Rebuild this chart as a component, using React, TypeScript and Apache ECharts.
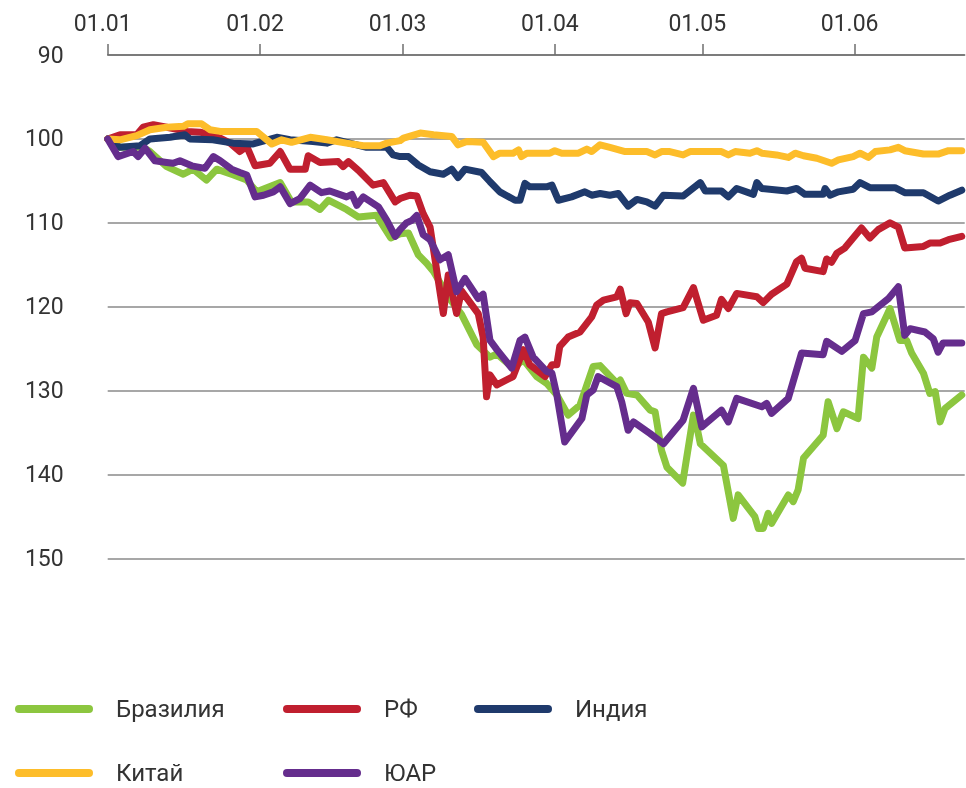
import React, { useEffect, useRef } from 'react';
import * as echarts from 'echarts';

// X axis: day offset from 1 January; ticks at the first day of each month
const monthTickDays = [0, 31, 60, 91, 121, 152];
const monthTickLabels = ['01.01', '01.02', '01.03', '01.04', '01.05', '01.06'];
const lastDay = 174.4;

// Y axis (inverted)
const yMin = 90;
const yMax = 150;
const yStep = 10;

const seriesNames = ['Бразилия', 'РФ', 'Индия', 'Китай', 'ЮАР'];
const seriesColors = ['#8cc63f', '#c01f2f', '#1f3a6c', '#fdbd2a', '#652d8d'];

const brazilDays = [0, 2.5, 7.2, 8.6, 12.0, 15.4, 17.4, 20.1, 22.2, 25.6, 28.3, 30.3, 35.1, 37.4, 40.8, 43.2, 44.9, 48.6, 51.0, 54.7, 57.6, 59.5, 61.2, 63.2, 64.9, 66.3, 69.3, 72.0, 75.1, 77.8, 79.2, 82.5, 84.6, 87.3, 89.3, 91.4, 93.7, 96.1, 98.8, 100.2, 103.6, 104.3, 105.6, 107.7, 110.4, 111.4, 112.7, 113.8, 117.0, 119.2, 119.9, 120.6, 125.3, 127.3, 128.3, 131.7, 132.4, 133.4, 134.4, 135.1, 138.5, 139.5, 140.5, 141.6, 145.6, 146.6, 148.4, 149.7, 152.7, 153.8, 155.5, 156.5, 159.2, 161.2, 162.6, 163.6, 166.0, 167.3, 168.4, 169.4, 170.4, 173.8];
const brazilValues = [100, 101.0, 101.0, 101.5, 103.3, 104.2, 103.6, 104.9, 103.6, 104.3, 104.9, 106.3, 105.2, 107.5, 107.5, 108.4, 107.3, 108.4, 109.3, 109.1, 111.8, 111.3, 111.2, 113.8, 114.8, 115.8, 118.8, 120.9, 124.5, 126.0, 125.6, 127.3, 126.3, 128.3, 129.1, 130.5, 132.9, 131.7, 127.1, 127.0, 129.1, 128.7, 130.3, 130.5, 132.3, 132.5, 137.1, 139.1, 141.0, 132.9, 134.3, 136.3, 138.9, 145.2, 142.4, 145.0, 146.4, 146.4, 144.6, 145.8, 142.4, 143.2, 141.8, 138.0, 135.3, 131.3, 134.5, 132.5, 133.3, 126.0, 127.3, 123.6, 120.2, 124.0, 124.0, 125.5, 127.9, 130.3, 130.1, 133.7, 132.1, 130.5];

const russiaDays = [0, 2.5, 5.9, 7.2, 9.3, 12.0, 16.1, 18.8, 20.8, 22.9, 24.9, 26.9, 28.3, 30.0, 33.0, 35.1, 37.1, 40.2, 40.8, 43.2, 46.9, 47.9, 49.0, 51.3, 54.0, 56.1, 58.5, 59.5, 61.5, 62.9, 64.2, 65.6, 68.3, 69.3, 71.0, 72.0, 75.4, 76.4, 77.1, 77.8, 79.2, 82.5, 84.6, 85.9, 89.0, 90.4, 91.4, 92.0, 93.7, 96.1, 98.5, 99.5, 100.9, 103.6, 104.3, 105.5, 106.3, 107.7, 110.0, 111.4, 112.7, 113.8, 117.1, 119.2, 121.2, 123.9, 124.9, 126.3, 128.0, 132.1, 133.4, 135.1, 138.2, 140.2, 141.2, 141.9, 145.6, 146.3, 147.3, 148.4, 150.0, 153.4, 155.1, 156.8, 159.2, 160.9, 162.2, 166.0, 167.3, 169.4, 171.1, 173.8];
const russiaValues = [100, 99.5, 99.5, 98.6, 98.3, 98.6, 99.1, 99.2, 99.5, 99.9, 100.5, 101.5, 100.9, 103.2, 102.9, 101.5, 103.6, 103.6, 102.0, 102.8, 102.7, 103.3, 102.7, 103.9, 105.5, 105.2, 107.5, 107.1, 106.7, 106.8, 108.9, 110.5, 120.8, 116.2, 120.8, 118.1, 120.8, 123.6, 130.7, 128.1, 129.3, 128.3, 125.1, 126.9, 128.3, 126.9, 126.9, 124.7, 123.6, 123.0, 121.2, 119.8, 119.2, 118.8, 117.9, 120.8, 119.5, 119.6, 121.8, 124.9, 120.8, 120.6, 120.1, 117.7, 121.6, 121.0, 119.1, 120.2, 118.4, 118.8, 119.5, 118.5, 117.3, 114.6, 114.2, 115.4, 115.8, 114.3, 114.7, 113.6, 113.0, 110.6, 111.8, 110.8, 110.0, 110.5, 113.0, 112.8, 112.4, 112.4, 112.0, 111.6];

const indiaDays = [0, 2.5, 6.6, 8.6, 12.7, 15.7, 16.7, 21.4, 25.5, 29.6, 34.4, 37.1, 41.8, 44.6, 46.6, 52.7, 56.8, 58.1, 59.5, 61.2, 63.2, 65.6, 68.3, 70.0, 71.3, 72.7, 76.1, 77.8, 79.8, 82.9, 83.9, 84.9, 85.9, 89.3, 90.4, 91.7, 94.4, 97.1, 98.5, 100.2, 102.2, 103.9, 105.9, 107.7, 109.7, 111.4, 113.1, 117.1, 120.6, 121.6, 124.9, 126.3, 128.0, 131.4, 132.1, 133.1, 138.2, 140.2, 141.9, 145.6, 146.0, 147.0, 148.7, 151.7, 153.1, 155.1, 160.2, 162.2, 166.0, 169.0, 171.4, 173.8];
const indiaValues = [100, 101.0, 100.8, 100.0, 99.8, 99.5, 100.0, 100.1, 100.5, 100.6, 99.8, 100.1, 100.3, 100.5, 100.1, 101.0, 101.0, 101.9, 102.1, 102.1, 103.1, 103.9, 104.2, 103.6, 104.6, 103.6, 104.0, 105.1, 106.3, 107.3, 107.3, 105.3, 105.7, 105.7, 105.5, 107.3, 106.9, 106.3, 106.7, 106.5, 106.7, 106.5, 108.0, 107.2, 107.5, 108.0, 106.7, 106.8, 105.2, 106.2, 106.2, 106.9, 105.9, 106.6, 105.2, 105.9, 106.2, 105.9, 106.6, 106.6, 105.9, 106.7, 106.3, 106.0, 105.2, 105.8, 105.8, 106.4, 106.4, 107.4, 106.7, 106.1];

const chinaDays = [0, 2.5, 5.9, 8.6, 12.0, 15.4, 16.3, 19.1, 20.8, 22.9, 30.3, 33.4, 35.4, 37.4, 41.2, 44.6, 48.6, 52.0, 55.4, 56.8, 59.5, 60.2, 63.6, 66.3, 70.0, 71.3, 73.1, 76.4, 78.5, 79.8, 82.5, 83.6, 84.2, 85.3, 90.0, 91.0, 92.4, 95.8, 97.5, 98.5, 100.2, 102.2, 105.3, 109.7, 111.4, 112.7, 114.4, 117.1, 118.5, 124.9, 126.3, 127.7, 130.7, 132.1, 133.1, 136.1, 138.5, 139.9, 141.6, 144.3, 147.3, 148.7, 151.7, 153.1, 154.8, 156.2, 159.2, 160.9, 162.2, 166.0, 169.0, 171.1, 173.8];
const chinaValues = [100, 100.1, 99.6, 98.9, 98.6, 98.5, 98.2, 98.2, 98.9, 99.1, 99.1, 100.6, 100.1, 100.4, 99.8, 100.1, 100.5, 100.8, 100.8, 100.5, 100.2, 99.9, 99.3, 99.5, 99.7, 100.7, 100.3, 100.4, 102.1, 101.7, 101.7, 101.3, 102.1, 101.7, 101.7, 101.4, 101.7, 101.7, 101.2, 101.5, 100.7, 101.0, 101.5, 101.5, 101.9, 101.5, 101.5, 101.9, 101.5, 101.5, 101.9, 101.5, 101.7, 101.4, 101.7, 101.9, 102.2, 101.7, 102.0, 102.3, 102.9, 102.5, 102.1, 101.7, 102.2, 101.5, 101.3, 101.0, 101.4, 101.8, 101.8, 101.4, 101.4];

const saDays = [0, 2.1, 5.2, 6.2, 7.6, 9.6, 12.0, 13.3, 14.7, 17.1, 19.8, 21.5, 22.9, 25.2, 26.9, 28.3, 30.0, 31.7, 33.7, 35.1, 37.1, 39.1, 41.2, 43.5, 45.2, 48.6, 49.7, 50.7, 52.0, 55.1, 56.8, 58.5, 59.5, 60.8, 61.9, 62.9, 64.2, 65.6, 67.6, 69.3, 71.0, 72.7, 75.4, 76.4, 77.8, 79.2, 82.2, 83.9, 84.9, 86.6, 89.3, 90.4, 91.4, 93.0, 96.5, 97.5, 98.8, 99.8, 103.6, 104.6, 105.9, 107.0, 110.4, 113.1, 117.1, 119.2, 120.9, 124.9, 126.3, 128.0, 133.1, 134.1, 135.1, 138.5, 141.2, 145.6, 146.3, 149.4, 152.1, 153.8, 155.5, 158.9, 160.9, 162.2, 163.3, 166.3, 168.0, 169.0, 170.0, 173.8];
const saValues = [100, 102.1, 101.5, 102.1, 101.1, 102.6, 102.8, 102.9, 102.6, 103.2, 103.5, 102.1, 102.6, 103.6, 104.0, 104.3, 106.9, 106.7, 106.3, 105.7, 107.7, 107.1, 105.5, 106.4, 106.2, 106.9, 106.6, 107.9, 106.9, 108.1, 109.7, 111.6, 110.8, 110.0, 109.7, 109.1, 111.4, 112.0, 114.4, 113.8, 118.2, 116.6, 119.0, 118.5, 124.0, 125.1, 127.3, 124.0, 123.6, 126.0, 127.7, 127.9, 130.5, 136.1, 133.3, 130.5, 129.9, 128.3, 129.5, 131.3, 134.7, 133.7, 135.1, 136.3, 133.5, 129.7, 134.3, 132.3, 133.7, 130.9, 131.9, 131.5, 132.7, 130.9, 125.5, 125.7, 124.1, 125.3, 124.0, 120.8, 120.6, 119.0, 117.6, 123.4, 122.6, 123.0, 123.8, 125.4, 124.3, 124.3];

const seriesDays = [brazilDays, russiaDays, indiaDays, chinaDays, saDays];
const seriesValues = [brazilValues, russiaValues, indiaValues, chinaValues, saValues];

function toPairs(days: number[], values: number[]) {
  const n = Math.min(days.length, values.length);
  const out: number[][] = [];
  for (let i = 0; i < n; i++) out.push([days[i], values[i]]);
  return out;
}

export default function App() {
  const ref = useRef<HTMLDivElement>(null);

  useEffect(() => {
    if (!ref.current) return;
    const chart = echarts.init(ref.current, null, { renderer: 'svg' });
    const font = 'Roboto, "Noto Sans", sans-serif';
    const textColor = '#333333';
    const legendIcon = 'path://M4,0 L74,0 A4,4 0 0 1 74,8 L4,8 A4,4 0 0 1 4,0 Z';
    const legendBase = {
      orient: 'vertical',
      top: 697,
      padding: 0,
      height: 90,
      itemWidth: 78,
      itemHeight: 8,
      itemGap: 40,
      icon: legendIcon,
      selectedMode: false,
      itemStyle: { borderWidth: 0 },
      textStyle: {
        fontFamily: font,
        fontSize: 24,
        color: textColor,
        lineHeight: 24,
        padding: [0, 0, 0, 18],
      },
    };

    chart.setOption({
      animation: false,
      grid: { left: 107.7, right: 1.3, top: 55, bottom: 229.3, containLabel: false },
      xAxis: {
        type: 'value',
        position: 'top',
        min: 0,
        max: lastDay,
        axisLine: { show: true, onZero: false, lineStyle: { color: '#6e6e6e', width: 1.5 } },
        axisTick: {
          show: true,
          inside: false,
          length: 11,
          customValues: monthTickDays,
          lineStyle: { color: '#6e6e6e', width: 1.5 },
        },
        axisLabel: {
          customValues: monthTickDays,
          formatter: (v: number) => {
            const i = monthTickDays.indexOf(v);
            return i >= 0 ? monthTickLabels[i] : '';
          },
          fontFamily: font,
          fontSize: 23,
          color: textColor,
          margin: 20,
          padding: [0, 10, 0, 0],
        },
        splitLine: { show: false },
      },
      yAxis: {
        type: 'value',
        inverse: true,
        min: yMin,
        max: yMax,
        interval: yStep,
        axisLine: { show: false },
        axisTick: { show: false },
        axisLabel: { fontFamily: font, fontSize: 23, color: textColor, margin: 44 },
        splitLine: { show: true, lineStyle: { color: '#8a8a8a', width: 1.5 } },
      },
      legend: [
        { ...legendBase, left: 15, data: ['Бразилия', 'Китай'] },
        { ...legendBase, left: 283, data: ['РФ', 'ЮАР'] },
        { ...legendBase, left: 474, data: ['Индия'] },
      ],
      series: seriesNames.map((name, i) => ({
        name,
        type: 'line',
        data: toPairs(seriesDays[i], seriesValues[i]),
        symbol: 'none',
        showSymbol: false,
        color: seriesColors[i],
        itemStyle: { color: seriesColors[i] },
        lineStyle: { color: seriesColors[i], width: 7, cap: 'round', join: 'round' },
        emphasis: { disabled: true },
        z: 2 + i,
      })),
    });

    return () => chart.dispose();
  }, []);

  return (
    <div
      ref={ref}
      style={{ position: 'fixed', left: 0, top: 0, width: 966, height: 788 }}
    />
  );
}
